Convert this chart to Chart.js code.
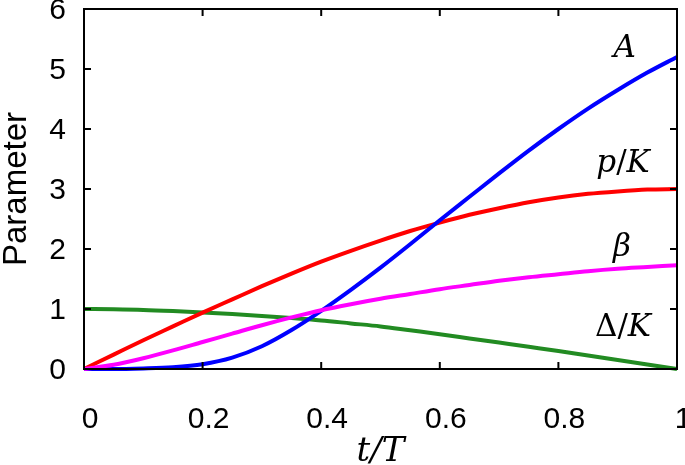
<!DOCTYPE html>
<html>
<head>
<meta charset="utf-8">
<script src="https://cdn.jsdelivr.net/npm/chart.js@4.4.1/dist/chart.umd.min.js"></script>
<style>
  html, body { margin: 0; padding: 0; background: #fff; }
  #chart { display: block; }
</style>
</head>
<body>
<canvas id="chart" width="685" height="465"></canvas>
<script>
// t/T sample points
var tValues = [0, 0.05, 0.1, 0.15, 0.2, 0.25, 0.3, 0.35, 0.4, 0.45, 0.5,
               0.55, 0.6, 0.65, 0.7, 0.75, 0.8, 0.85, 0.9, 0.95, 1];

// curves
var seriesA     = [0, 0, 0.01, 0.03, 0.08, 0.19, 0.38, 0.65, 0.97, 1.32, 1.69,
                   2.08, 2.48, 2.87, 3.26, 3.64, 4.0, 4.34, 4.65, 4.94, 5.2];
var seriesPK    = [0, 0.24, 0.48, 0.71, 0.94, 1.16, 1.38, 1.59, 1.79, 1.97, 2.14,
                   2.3, 2.44, 2.57, 2.68, 2.78, 2.86, 2.92, 2.96, 2.99, 3.0];
var seriesBeta  = [0, 0.07, 0.18, 0.31, 0.45, 0.59, 0.73, 0.86, 0.98, 1.08, 1.17,
                   1.25, 1.33, 1.4, 1.47, 1.53, 1.58, 1.63, 1.67, 1.7, 1.73];
var seriesDelta = [1.0, 0.995, 0.985, 0.965, 0.94, 0.915, 0.885, 0.85, 0.81, 0.76, 0.71,
                   0.645, 0.58, 0.51, 0.44, 0.37, 0.3, 0.225, 0.15, 0.075, 0];

var xTickLabels = ['0', '0.2', '0.4', '0.6', '0.8', '1'];
var yTickLabels = ['0', '1', '2', '3', '4', '5', '6'];

function toPoints(ys) {
    var pts = [];
    for (var i = 0; i < tValues.length; i++) {
        pts.push({ x: tValues[i], y: ys[i] });
    }
    return pts;
}

function lineSet(label, ys, color) {
    return {
        label: label,
        data: toPoints(ys),
        borderColor: color,
        borderWidth: 4,
        pointRadius: 0,
        fill: false,
        cubicInterpolationMode: 'monotone',
        clip: false
    };
}

// draws text pieces with different fonts, centred on (cx, cy)
function drawPieces(ctx, pieces, cx, cy) {
    var total = 0;
    for (var i = 0; i < pieces.length; i++) {
        ctx.font = pieces[i][1];
        total += ctx.measureText(pieces[i][0]).width;
    }
    var x = cx - total / 2;
    ctx.textBaseline = 'middle';
    ctx.textAlign = 'left';
    for (var j = 0; j < pieces.length; j++) {
        ctx.font = pieces[j][1];
        ctx.fillText(pieces[j][0], x, cy);
        x += ctx.measureText(pieces[j][0]).width;
    }
}

var framePlugin = {
    id: 'frame',
    afterDraw: function (chart) {
        var ctx = chart.ctx;
        var area = chart.chartArea;
        var xs = chart.scales.x;
        var ys = chart.scales.y;
        var tick = 7;
        ctx.save();
        ctx.strokeStyle = '#000';
        ctx.lineWidth = 2;
        ctx.strokeRect(area.left, area.top, area.right - area.left, area.bottom - area.top);
        ctx.beginPath();
        xs.ticks.forEach(function (t) {
            var px = xs.getPixelForValue(t.value);
            ctx.moveTo(px, area.bottom); ctx.lineTo(px, area.bottom - tick);
            ctx.moveTo(px, area.top); ctx.lineTo(px, area.top + tick);
        });
        ys.ticks.forEach(function (t) {
            var py = ys.getPixelForValue(t.value);
            ctx.moveTo(area.left, py); ctx.lineTo(area.left + tick, py);
            ctx.moveTo(area.right, py); ctx.lineTo(area.right - tick, py);
        });
        ctx.stroke();

        // curve names
        ctx.fillStyle = '#000';
        var it = 'italic 31px "DejaVu Serif"';
        var up = '31px "DejaVu Serif"';
        drawPieces(ctx, [['A', it]], xs.getPixelForValue(0.912), ys.getPixelForValue(5.33));
        drawPieces(ctx, [['p', it], ['/', up], ['K', it]], xs.getPixelForValue(0.909), ys.getPixelForValue(3.42));
        drawPieces(ctx, [['β', it]], xs.getPixelForValue(0.907), ys.getPixelForValue(2.02));
        drawPieces(ctx, [['Δ', up], ['/', up], ['K', it]], xs.getPixelForValue(0.909), ys.getPixelForValue(0.68));
        ctx.restore();
    }
};

var ctx = document.getElementById('chart').getContext('2d');
var chart = new Chart(ctx, {
    type: 'line',
    data: {
        datasets: [
            lineSet('β', seriesBeta, '#ff00ff'),
            lineSet('A', seriesA, '#0000ff'),
            lineSet('p/K', seriesPK, '#ff0000'),
            lineSet('Δ/K', seriesDelta, '#228b22')
        ]
    },
    options: {
        responsive: false,
        animation: false,
        layout: { padding: { left: 0, right: 8, top: 9, bottom: 0 } },
        plugins: {
            legend: { display: false },
            tooltip: { enabled: false }
        },
        scales: {
            x: {
                type: 'linear',
                min: 0,
                max: 1,
                grid: { display: false, drawTicks: false },
                border: { display: false },
                ticks: {
                    stepSize: 0.2,
                    color: '#000',
                    padding: 33,
                    labelOffset: 6,
                    maxRotation: 0,
                    font: { family: '"Liberation Sans", Arial', size: 30 },
                    callback: function (v, i) { return xTickLabels[i]; }
                },
                title: {
                    display: true,
                    text: 't/T',
                    color: '#000',
                    padding: { top: 0, bottom: -4 },
                    font: { family: '"DejaVu Serif"', style: 'italic', size: 34, lineHeight: 1 }
                },
                afterFit: function (s) { s.height = 96; s.paddingLeft = 0; s.paddingRight = 0; }
            },
            y: {
                min: 0,
                max: 6,
                grid: { display: false, drawTicks: false },
                border: { display: false },
                ticks: {
                    stepSize: 1,
                    color: '#000',
                    padding: 18,
                    labelOffset: 2,
                    font: { family: '"Liberation Sans", Arial', size: 30 },
                    callback: function (v, i) { return yTickLabels[i]; }
                },
                title: {
                    display: true,
                    text: 'Parameter',
                    color: '#000',
                    padding: 0,
                    font: { family: '"Liberation Sans", Arial', size: 33, lineHeight: 1 }
                },
                afterFit: function (s) { s.width = 84; s.paddingTop = 0; s.paddingBottom = 0; }
            }
        }
    },
    plugins: [framePlugin]
});
</script>
</body>
</html>
